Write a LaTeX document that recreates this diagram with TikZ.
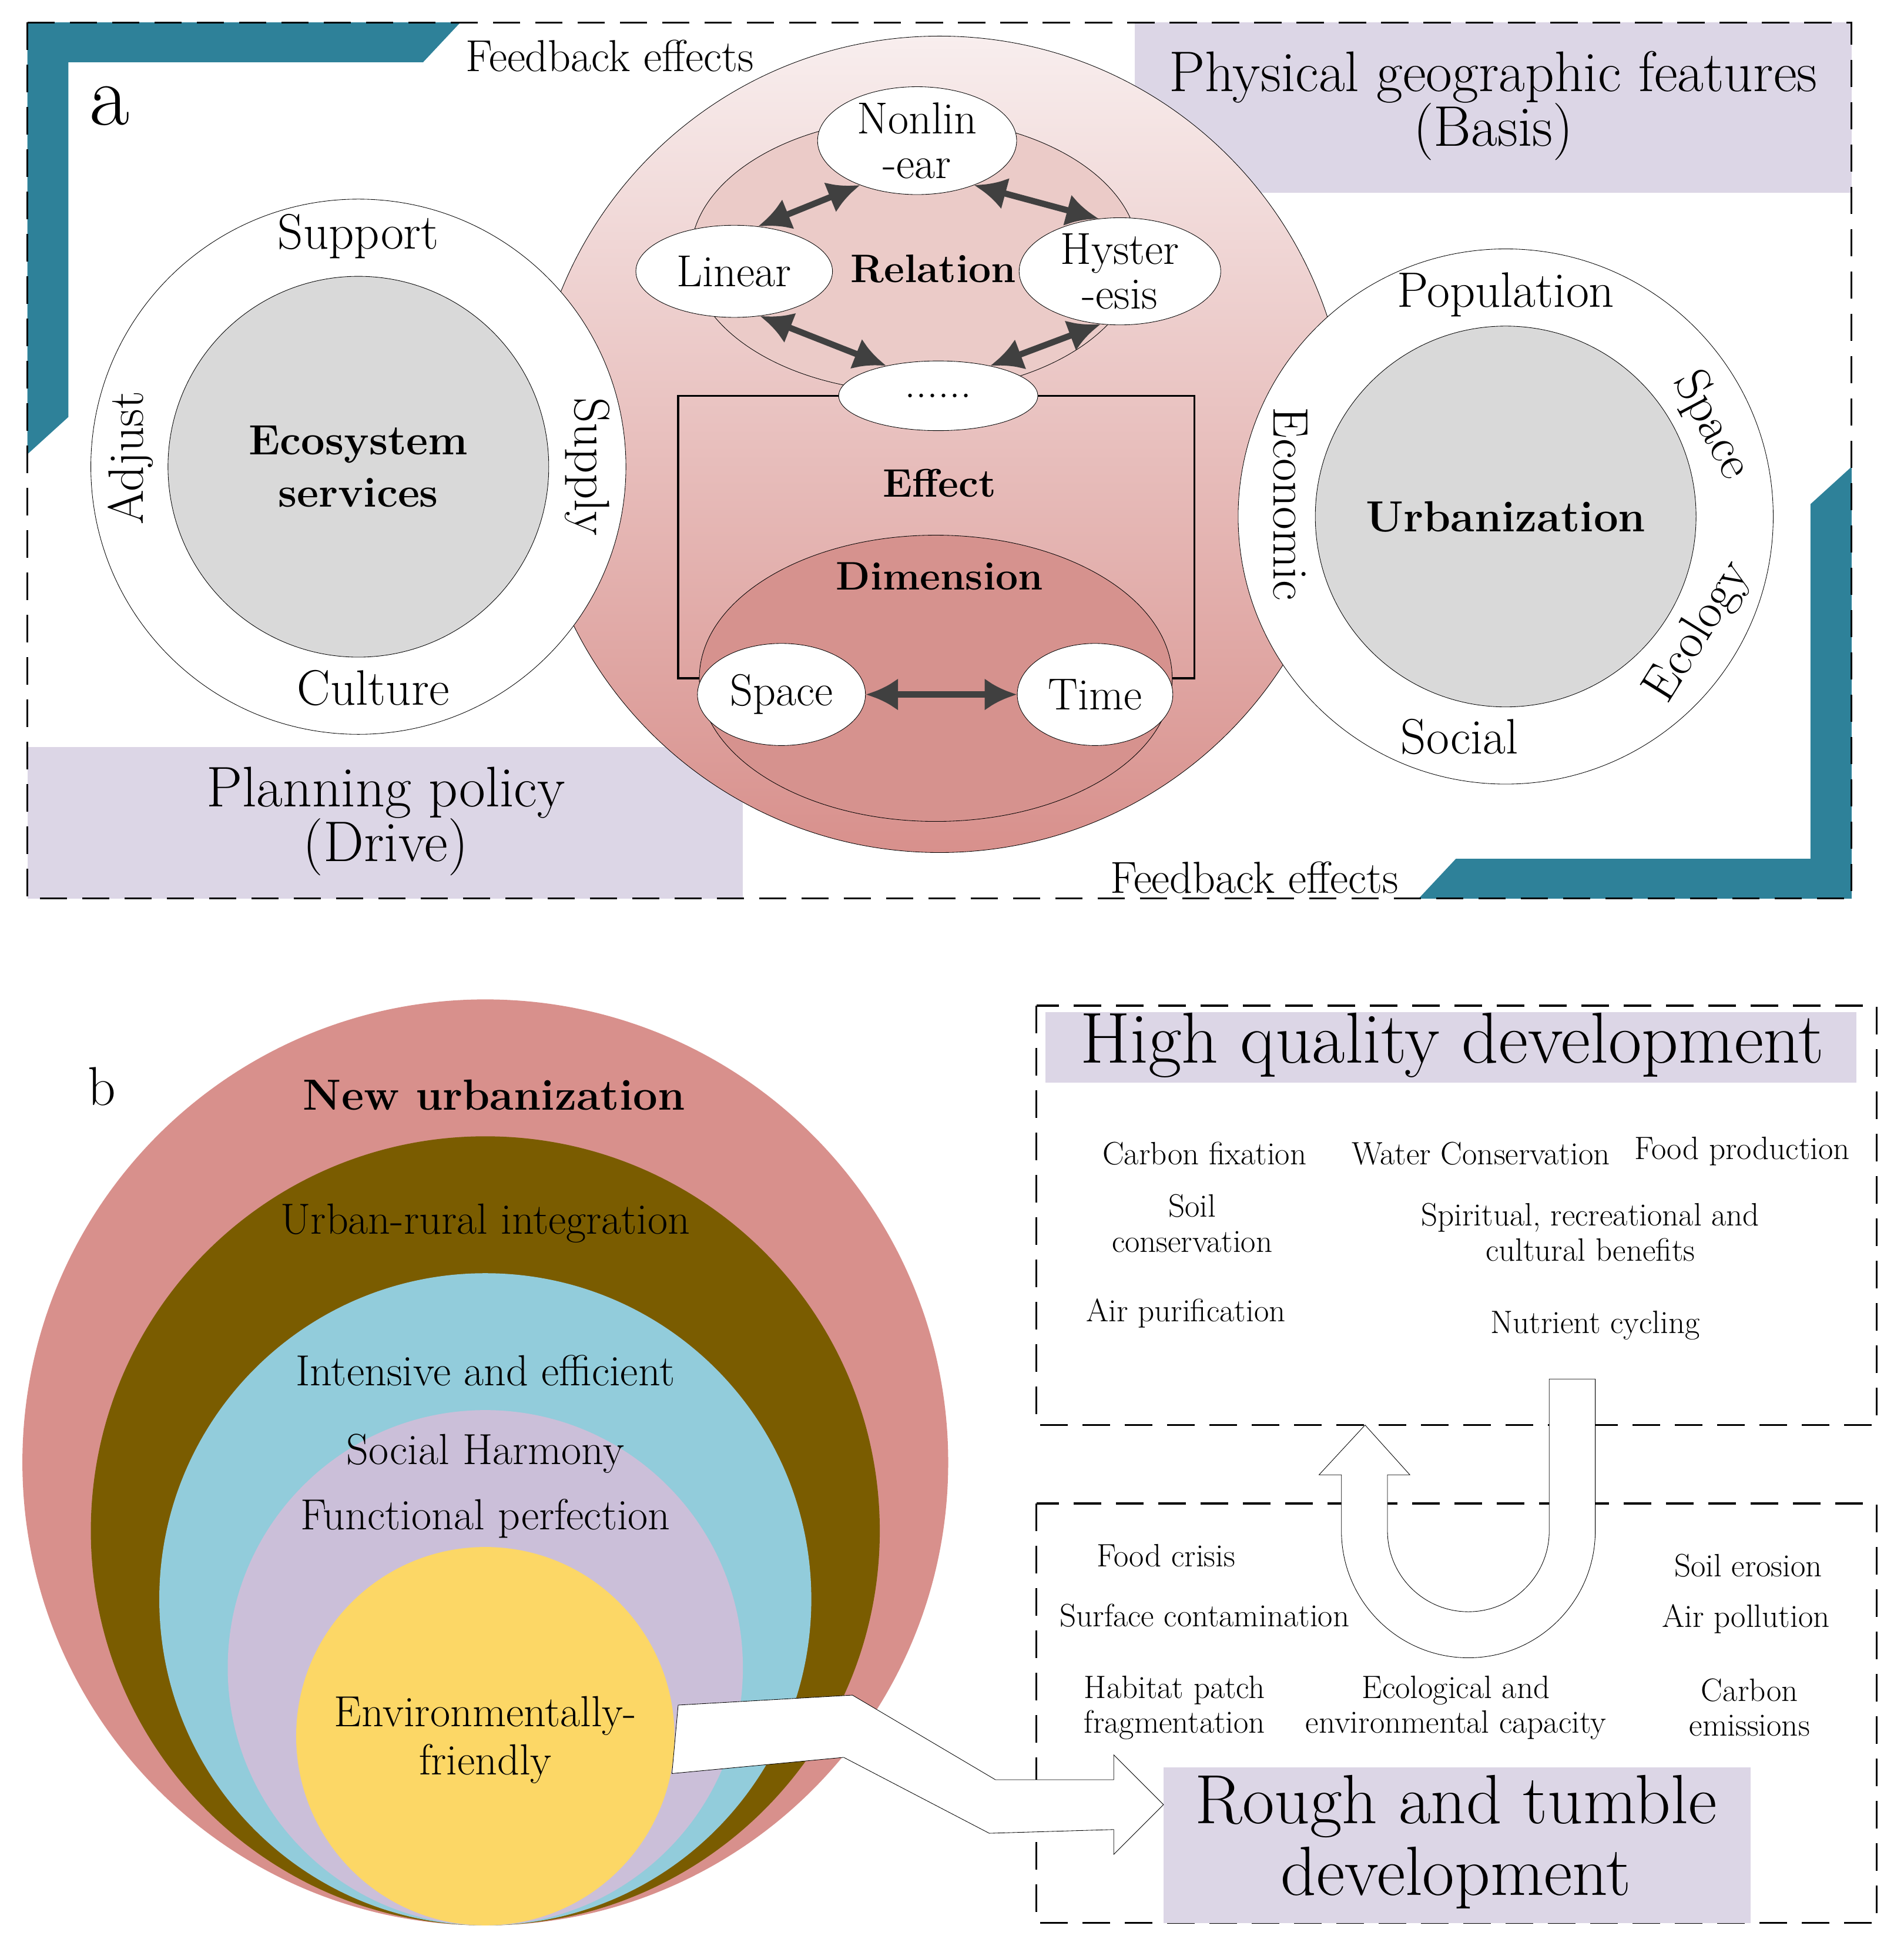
\documentclass[tikz,border=0pt]{standalone}
\usetikzlibrary{arrows.meta,shapes.geometric}
\definecolor{teal1}{HTML}{2E8199}
\definecolor{lav}{HTML}{DCD6E6}
\definecolor{pinkA}{HTML}{F8EEEE}
\definecolor{pinkB}{HTML}{D8908C}
\definecolor{rel}{HTML}{EBCBC8}
\definecolor{dimc}{HTML}{D6928E}
\definecolor{greyc}{HTML}{D9D9D9}
\definecolor{brownc}{HTML}{7A5C00}
\definecolor{bluec}{HTML}{92CCDB}
\definecolor{lilac}{HTML}{CBBFD9}
\definecolor{yellowc}{HTML}{FCD766}
\tikzset{
  fnt/.style={font=\fontsize{#1}{#1}\selectfont},
  lbl/.style={fnt=40, align=center, inner sep=0pt},
  blbl/.style={lbl, font=\fontsize{#1}{#1}\selectfont\bfseries},
  plbl/.style={fnt=35, align=center, inner sep=0pt},
  small/.style={fnt=26, align=center, inner sep=0pt},
  bub/.style={ellipse, draw, fill=white, fnt=36, inner sep=0pt},
  dbl/.style={{Latex[length=26pt,width=26pt]}-{Latex[length=26pt,width=26pt]}, line width=5pt, draw=black!75},
  frame/.style={dashed, dash pattern=on 22pt off 12pt, line width=1.5pt},
}
\begin{document}
\begin{tikzpicture}[x=1pt, y=-1pt]
\useasboundingbox (0,0) rectangle (1530,1566);

% Panel a: frame and corners
\fill[lav] (912,18) rectangle (1488,155);
\fill[lav] (22,600) rectangle (597,722);
\fill[teal1] (22,18) -- (370,18) -- (340,50) -- (55,50) -- (55,335) -- (22,365) -- cycle;
\fill[teal1] (1488,375) -- (1488,722) -- (1140,722) -- (1170,690) -- (1455,690) -- (1455,405) -- cycle;
\draw[frame] (22,18) rectangle (1488,722);
\node[fnt=36] (fbtop) at (490,45) {Feedback effects};
\node[fnt=36] (fbbot) at (1008,705) {Feedback effects};
\node[fnt=46, align=center] (basis) at (1200,85) {Physical geographic features\\[-2pt](Basis)};
\node[fnt=46, align=center] (drive) at (310,660) {Planning policy\\[-2pt](Drive)};
\node[fnt=70] (pa) at (88,85) {a};

% Central circle
\shade[top color=pinkA, bottom color=pinkB, draw=black] (755,357) circle[radius=328];
\draw[fill=rel] (735,205) ellipse[x radius=180, y radius=110];
\draw[line width=1.5pt] (545,318) rectangle (960,545);
\draw[fill=dimc] (752,545) ellipse[x radius=190, y radius=115];
\node[bub, minimum width=160, minimum height=84, align=center] (nonlin) at (737,113) {Nonlin\\-ear};
\node[bub, minimum width=158, minimum height=74] (linear) at (590,218) {Linear};
\node[bub, minimum width=162, minimum height=84, align=center] (hyst) at (900,218) {Hyster\\-esis};
\node[bub, minimum width=160, minimum height=56] (dots) at (754,318) {......};
\node[blbl=32] (relation) at (750,216) {Relation};
\node[blbl=32] (effect) at (755,388) {Effect};
\node[blbl=32] (dimension) at (755,463) {Dimension};
\node[bub, minimum width=135, minimum height=82] (space) at (628,558) {Space};
\node[bub, minimum width=125, minimum height=82] (time) at (880,558) {Time};
\draw[dbl] (linear.62) -- (nonlin.218);
\draw[dbl] (nonlin.-38) -- (hyst.112);
\draw[dbl] (linear.-60) -- (dots.150);
\draw[dbl] (hyst.-110) -- (dots.30);
\draw[dbl] (space) -- (time);

% Ecosystem services
\draw[fill=white] (288,375) circle[radius=215];
\draw[fill=greyc] (288,375) circle[radius=153];
\node[blbl=34, font=\fontsize{34}{42}\selectfont\bfseries] (eco) at (288,375) {Ecosystem\\services};
\node[lbl] (support) at (288,190) {Support};
\node[lbl] (culture) at (300,553) {Culture};
\node[lbl, rotate=90] (adjust) at (105,368) {Adjust};
\node[lbl, rotate=-90] (supply) at (472,375) {Supply};

% Urbanization
\draw[fill=white] (1210,415) circle[radius=215];
\draw[fill=greyc] (1210,415) circle[radius=153];
\node[blbl=35] (urb) at (1210,415) {Urbanization};
\node[lbl] (population) at (1210,237) {Population};
\node[lbl] (social) at (1173,592) {Social};
\node[lbl, rotate=-90] (economic) at (1037,405) {Economic};
\node[lbl, rotate=-62] (uspace) at (1375,342) {Space};
\node[lbl, rotate=58] (ecology) at (1365,508) {Ecology};

% Panel b: nested circles
\node[fnt=44] (pb) at (82,873) {b};
\fill[pinkB] (390,1175) circle[radius=372];
\fill[brownc] (390,1230) circle[radius=317];
\fill[bluec] (390,1285) circle[radius=262];
\fill[lilac] (390,1340) circle[radius=207];
\fill[yellowc] (390,1395) circle[radius=152];
\node[blbl=35] (newurb) at (397,880) {New urbanization};
\node[plbl] (integ) at (390,983) {Urban-rural integration};
\node[plbl] (intens) at (390,1101) {Intensive and efficient};
\node[plbl] (harm) at (390,1168) {Social Harmony};
\node[plbl] (func) at (390,1220) {Functional perfection};
\node[plbl] (env) at (390,1398) {Environmentally-\\[4pt]friendly};

% High quality box
\draw[frame] (833,808) rectangle (1508,1145);
\fill[lav] (840,813) rectangle (1492,870);
\node[fnt=58] (hq) at (1167,840) {High quality development};
\node[small] (cfix) at (968,927) {Carbon fixation};
\node[small] (water) at (1190,927) {Water Conservation};
\node[small] (food) at (1400,925) {Food production};
\node[small] (soil) at (958,983) {Soil\\[2pt]conservation};
\node[small] (spirit) at (1278,990) {Spiritual, recreational and\\[2pt]cultural benefits};
\node[small] (air) at (953,1055) {Air purification};
\node[small] (nutr) at (1282,1065) {Nutrient cycling};

% Rough box
\draw[frame] (833,1208) rectangle (1508,1545);
\fill[lav] (935,1420) rectangle (1407,1545);
\node[fnt=56, align=center] (rough) at (1170,1480) {Rough and tumble\\[2pt]development};
\node[small] (crisis) at (937,1250) {Food crisis};
\node[small] (surf) at (968,1298) {Surface contamination};
\node[small] (eros) at (1405,1258) {Soil erosion};
\node[small] (poll) at (1403,1301) {Air pollution};
\node[small] (habit) at (944,1372) {Habitat patch\\[2pt]fragmentation};
\node[small] (capac) at (1170,1372) {Ecological and\\[2pt]environmental capacity};
\node[small] (carb) at (1406,1372) {Carbon\\[2pt]emissions};

% Arrows
\draw[fill=white] (545,1370) -- (685,1362) -- (800,1430) -- (895,1430) -- (895,1410) -- (935,1450)
  -- (895,1490) -- (895,1470) -- (795,1473) -- (678,1412) -- (540,1425) -- cycle;
\draw[fill=white] (1245,1108) -- (1282,1108) -- (1282,1230) arc[start angle=0, end angle=180, radius=102]
  -- (1078,1185) -- (1060,1185) -- (1097,1145) -- (1133,1185) -- (1115,1185) -- (1115,1230)
  arc[start angle=180, end angle=0, radius=65] -- cycle;
\end{tikzpicture}
\end{document}
